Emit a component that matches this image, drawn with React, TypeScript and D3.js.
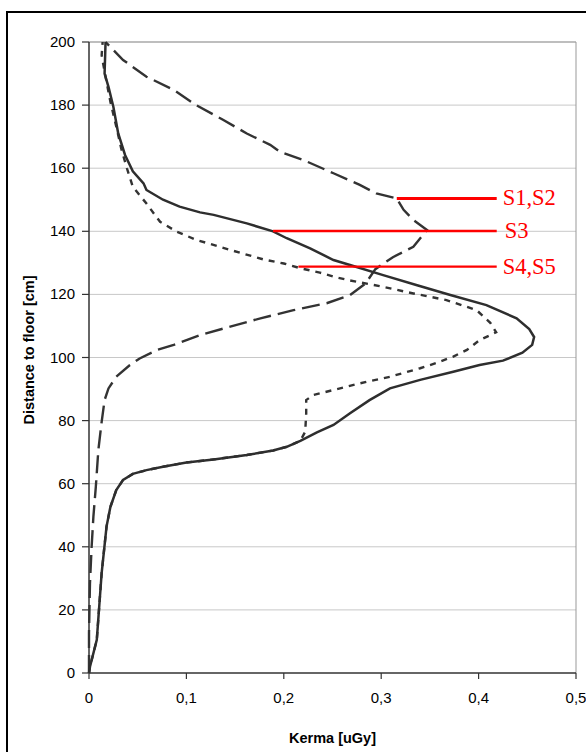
import React from 'react';
import * as d3 from 'd3';

// [kerma uGy, distance to floor cm]
const seriesS12: [number, number][] = [
  [0, 0], [0, 12.7], [0.001, 28.5], [0.0027, 40], [0.0045, 49.5], [0.007, 59], [0.0096, 70.7],
  [0.013, 79.6], [0.016, 86.5], [0.02, 90.2], [0.028, 93.9], [0.042, 97.6], [0.052, 99.7],
  [0.07, 102.4], [0.087, 104], [0.114, 107.1], [0.145, 109.8], [0.176, 112.4], [0.21, 115],
  [0.244, 117.2], [0.268, 119.8], [0.284, 123.5], [0.294, 128], [0.312, 131.8], [0.333, 135.1],
  [0.347, 140.4], [0.333, 143.6], [0.323, 146.8], [0.316, 150.4], [0.295, 152], [0.278, 154.7],
  [0.251, 158.4], [0.22, 162.6], [0.196, 165.2], [0.186, 167.4], [0.162, 171], [0.138, 175.3],
  [0.11, 180], [0.087, 184.8], [0.059, 189], [0.035, 194.3], [0.017, 200],
];

const seriesS3: [number, number][] = [
  [0, 0], [0.001, 2], [0.008, 10.5], [0.013, 31.7], [0.018, 46.4], [0.022, 52.7], [0.028, 58],
  [0.035, 61.2], [0.045, 63.1], [0.059, 64.3], [0.076, 65.4], [0.1, 66.7], [0.128, 67.7],
  [0.162, 69.1], [0.189, 70.5], [0.203, 71.7], [0.217, 73.6], [0.234, 76.3], [0.251, 78.6],
  [0.268, 82.3], [0.288, 86.5], [0.309, 90.2], [0.34, 92.9], [0.374, 95.5], [0.401, 97.6],
  [0.425, 99], [0.445, 101.5], [0.455, 104], [0.457, 106.5], [0.452, 109], [0.439, 112.4],
  [0.408, 116.6], [0.371, 119.8], [0.336, 123], [0.302, 126.1], [0.268, 129.3], [0.251, 130.9],
  [0.227, 134.6], [0.203, 137.8], [0.189, 140], [0.162, 142.5], [0.128, 145.2], [0.114, 146],
  [0.093, 147.8], [0.076, 150], [0.059, 153.1], [0.056, 155.2], [0.045, 159], [0.037, 164.2],
  [0.03, 171], [0.025, 179.5], [0.02, 185.8], [0.016, 190], [0.017, 200],
];

const seriesS45: [number, number][] = [
  [0, 0], [0.001, 2], [0.008, 10.5], [0.013, 31.7], [0.018, 46.4], [0.022, 52.7], [0.028, 58],
  [0.035, 61.2], [0.045, 63.1], [0.059, 64.3], [0.076, 65.4], [0.1, 66.7], [0.128, 67.7],
  [0.162, 69.1], [0.189, 70.5], [0.203, 71.7], [0.217, 73.6], [0.222, 76.5], [0.223, 82.3],
  [0.223, 86.5], [0.23, 88.1], [0.251, 89.7], [0.278, 91.8], [0.309, 93.9], [0.34, 96.6],
  [0.357, 98.3], [0.374, 100.3], [0.388, 102.4], [0.401, 105.5], [0.418, 108], [0.412, 111],
  [0.398, 115], [0.367, 118.2], [0.333, 120.3], [0.302, 122.4], [0.268, 124.4], [0.254, 125.4],
  [0.237, 126.9], [0.217, 128.3], [0.2, 129.8], [0.179, 131.1], [0.145, 134.1], [0.11, 137.3],
  [0.09, 139.9], [0.073, 143], [0.059, 148.8], [0.045, 154.1], [0.039, 159.9], [0.033, 166.3],
  [0.03, 170.5], [0.026, 175.8], [0.022, 181], [0.016, 190.6], [0.013, 195.8], [0.014, 200],
];

// red markers: label, height, start kerma, end kerma
const markerLabels = ['S1,S2', 'S3', 'S4,S5'];
const markerHeights = [150.4, 140.1, 128.8];
const markerStarts = [0.316, 0.189, 0.215];
const markerEnd = 0.4186;

const xTicks = [0, 0.1, 0.2, 0.3, 0.4, 0.5];
const yTicks = [0, 20, 40, 60, 80, 100, 120, 140, 160, 180, 200];

const W = 586;
const H = 752;
const plot = { left: 89, right: 576, top: 42, bottom: 673 };

export default function App() {
  const x = d3.scaleLinear().domain([0, 0.5]).range([plot.left, plot.right]);
  const y = d3.scaleLinear().domain([0, 200]).range([plot.bottom, plot.top]);
  const line = d3
    .line<[number, number]>()
    .x((d) => x(d[0]))
    .y((d) => y(d[1]));

  const sans = '"Liberation Sans", Arial, sans-serif';
  const fmt = (v: number) => (v === 0 ? '0' : String(v).replace('.', ','));

  return (
    <svg
      width={W}
      height={H}
      style={{ position: 'absolute', left: 0, top: 0, background: '#fff' }}
    >
      {/* outer chart frame, runs off the page on right and bottom */}
      <rect x={7} y={12} width={W + 20} height={H + 20} fill="#fff" stroke="#000" strokeWidth={2} />

      {/* gridlines */}
      {yTicks.slice(1).map((t) => (
        <line key={t} x1={plot.left} x2={plot.right} y1={y(t)} y2={y(t)} stroke="#c8c8c8" strokeWidth={1} />
      ))}
      <line x1={plot.right} x2={plot.right} y1={plot.top} y2={plot.bottom} stroke="#999" strokeWidth={1} />
      <line x1={plot.left} x2={plot.right} y1={plot.top} y2={plot.top} stroke="#999" strokeWidth={1} />

      {/* axes */}
      <line x1={plot.left} x2={plot.left} y1={plot.top} y2={plot.bottom} stroke="#333" strokeWidth={1.5} />
      <line x1={plot.left} x2={plot.right} y1={plot.bottom} y2={plot.bottom} stroke="#333" strokeWidth={1.5} />
      {yTicks.map((t) => (
        <g key={t}>
          <line x1={plot.left - 7} x2={plot.left} y1={y(t)} y2={y(t)} stroke="#333" strokeWidth={1.2} />
          <text x={75} y={y(t) + 5} textAnchor="end" fontFamily={sans} fontSize={15} fill="#000">
            {t}
          </text>
        </g>
      ))}
      {xTicks.map((t) => (
        <g key={t}>
          <line x1={x(t)} x2={x(t)} y1={plot.bottom} y2={plot.bottom + 6} stroke="#333" strokeWidth={1.2} />
          <text x={x(t)} y={703} textAnchor="middle" fontFamily={sans} fontSize={15} fill="#000">
            {fmt(t)}
          </text>
        </g>
      ))}

      <text x={(plot.left + plot.right) / 2} y={743} textAnchor="middle" fontFamily={sans} fontSize={14.5} fontWeight="bold">
        Kerma [uGy]
      </text>
      <text
        transform="translate(34,350) rotate(-90)"
        textAnchor="middle"
        fontFamily={sans}
        fontSize={14.5}
        fontWeight="bold"
      >
        Distance to floor [cm]
      </text>

      {/* series */}
      <path d={line(seriesS12) ?? ''} fill="none" stroke="#333" strokeWidth={2.4} strokeDasharray="18,7" />
      <path d={line(seriesS45) ?? ''} fill="none" stroke="#333" strokeWidth={2.4} strokeDasharray="6,6" />
      <path d={line(seriesS3) ?? ''} fill="none" stroke="#2e2e2e" strokeWidth={2.5} />

      {/* red markers */}
      {markerLabels.map((lab, i) => (
        <g key={lab}>
          <line
            x1={x(markerStarts[i])}
            x2={x(markerEnd)}
            y1={y(markerHeights[i])}
            y2={y(markerHeights[i])}
            stroke="#ff0000"
            strokeWidth={i === 0 ? 3 : 2.4}
          />
          <text
            x={x(markerEnd) + 6 + (lab === 'S3' ? 2 : 0)}
            y={y(markerHeights[i]) + 7}
            fontFamily='"Liberation Serif", "Times New Roman", serif'
            fontSize={22.5}
            fill="#ff0000"
          >
            {lab}
          </text>
        </g>
      ))}
    </svg>
  );
}
